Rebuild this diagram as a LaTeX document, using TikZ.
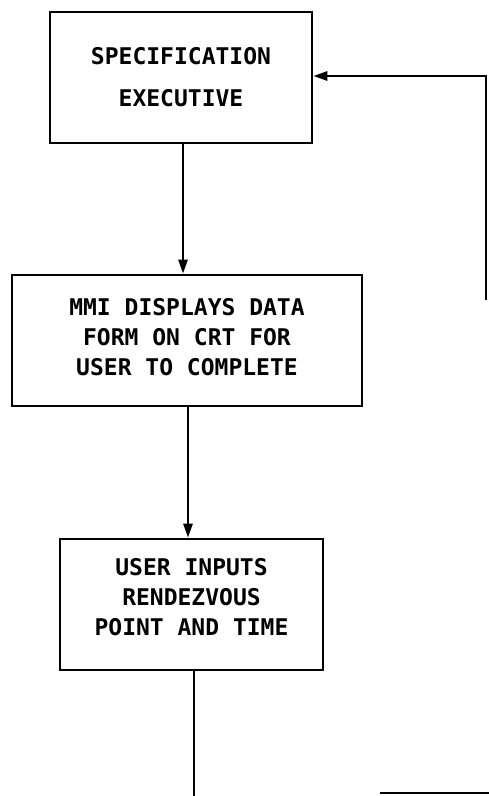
\documentclass[tikz,border=0pt]{standalone}
\usepackage{fontspec}
\setmonofont{DejaVu Sans Mono}
\usetikzlibrary{arrows.meta}
\tikzset{
  stepbox/.style={draw, line width=2.6pt, rectangle, inner sep=0pt,
    align=center, font=\ttfamily\bfseries\fontsize{23}{30}\selectfont},
  flow/.style={line width=2.6pt},
  arr/.style={flow, -{Triangle[length=14pt,width=9pt]}}
}
\begin{document}
\begin{tikzpicture}[x=1pt,y=-1pt]
  \useasboundingbox (0,0) rectangle (489,796);

  % process boxes
  \node[stepbox, minimum width=262pt, minimum height=131pt,
        font=\ttfamily\bfseries\fontsize{23}{42}\selectfont]
    (spec) at (181,77.5) {SPECIFICATION\\EXECUTIVE};
  \node[stepbox, minimum width=350pt, minimum height=131pt]
    (mmi) at (187,340.5) {MMI DISPLAYS DATA\\FORM ON CRT FOR\\USER TO COMPLETE\\[-22pt]};
  \node[stepbox, minimum width=263pt, minimum height=131pt]
    (user) at (191.5,604.5) {USER INPUTS\\RENDEZVOUS\\POINT AND TIME\\[-15pt]};

  % free ends of the connectors
  \coordinate (down) at (194,796);
  \coordinate (fbtop) at (486,76);
  \coordinate (fbbot) at (486,300);
  \coordinate (retA) at (380,793);
  \coordinate (retB) at (489,793);

  % main flow
  \draw[arr] ([xshift=2pt]spec.south) -- ([xshift=2pt]spec.south |- mmi.north);
  \draw[arr] ([xshift=1pt]mmi.south) -- ([xshift=1pt]mmi.south |- user.north);
  \draw[flow] ([xshift=2.5pt]user.south) -- ([xshift=2.5pt]user.south |- down);

  % feedback into the executive
  \draw[arr] (fbbot) -- (fbtop) -- (spec.east |- fbtop);
  \draw[flow] (retA) -- (retB);
\end{tikzpicture}
\end{document}
